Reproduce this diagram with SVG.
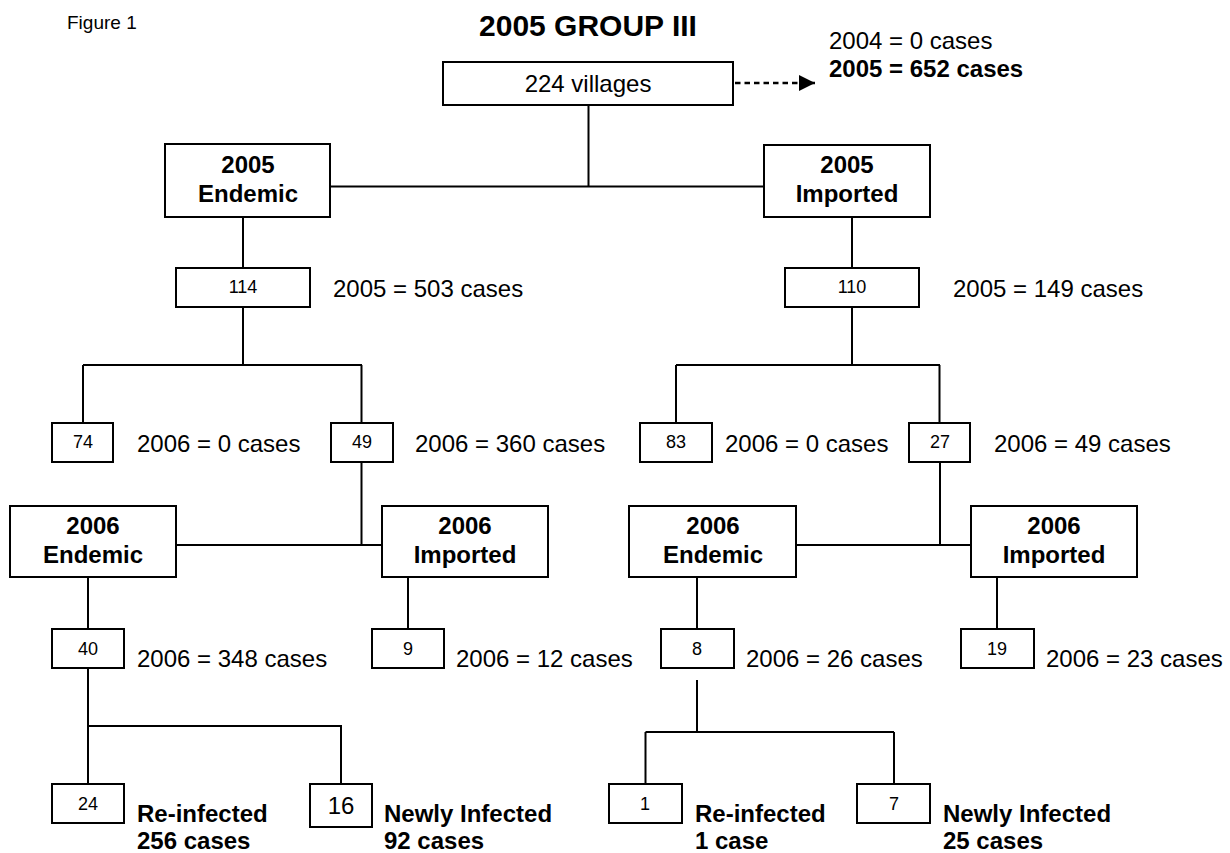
<svg xmlns="http://www.w3.org/2000/svg" width="1230" height="853" viewBox="0 0 1230 853">
<defs>
<style>
.bx{fill:#fff;stroke:#000;stroke-width:2}
.ln{fill:none;stroke:#000;stroke-width:2}
.dash{fill:none;stroke:#000;stroke-width:2.5;stroke-dasharray:5.5,4}
text{font-family:"Liberation Sans",Arial,sans-serif;fill:#000}
.t{font-size:24px}
.b{font-size:24px;font-weight:bold}
.bc{font-size:24px;font-weight:bold;text-anchor:middle}
.n{font-size:18px;text-anchor:middle}
.nl{font-size:24px;text-anchor:middle}
</style>
<marker id="ah" viewBox="0 0 16 16" refX="16" refY="8" markerWidth="16" markerHeight="16" markerUnits="userSpaceOnUse" orient="auto">
<path d="M0,0 L16,8 L0,16 Z" fill="#000"/>
</marker>
</defs>
<rect width="1230" height="853" fill="#fff"/>
<text x="67" y="29" style="font-size:19px">Figure 1</text>
<text x="588" y="36" style="font-size:30px;font-weight:bold;text-anchor:middle">2005 GROUP III</text>
<g id="connectors">
<path class="ln" d="M588.5,105 V186.5 M330,186.5 H764"/>
<path class="dash" d="M735,83 H815" marker-end="url(#ah)"/>
<path class="ln" d="M243,217 V268 M852,217 V268"/>
<path class="ln" d="M243,307 V365 M83,365 H362 M83,365 V423 M361.5,365 V423"/>
<path class="ln" d="M852,307 V365 M676,365 H940 M676,365 V423 M939.5,365 V423"/>
<path class="ln" d="M361.5,462 V545 M176,545 H382"/>
<path class="ln" d="M940,462 V545 M796,545 H971"/>
<path class="ln" d="M88,577 V629 M408,577 V629 M697,577 V629 M997,577 V629"/>
<path class="ln" d="M88,668 V784 M88,726 H341 V784"/>
<path class="ln" d="M697,680 V732 M645.5,732 H894 M645.5,732 V784 M894,732 V784"/>
</g>
<g id="n224"><rect class="bx" x="443" y="62" width="290" height="43"/><text class="t" x="588" y="92" text-anchor="middle">224 villages</text></g>
<g id="cases2005"><text class="t" x="829" y="49">2004 = 0 cases</text><text class="b" x="829" y="77">2005 = 652 cases</text></g>
<g id="end2005"><rect class="bx" x="165" y="144" width="165" height="73"/><text class="bc" x="248" y="173">2005</text><text class="bc" x="248" y="202">Endemic</text></g>
<g id="imp2005"><rect class="bx" x="764" y="145" width="166" height="72"/><text class="bc" x="847" y="173">2005</text><text class="bc" x="847" y="202">Imported</text></g>
<g id="n114"><rect class="bx" x="176" y="268" width="134" height="39"/><text class="n" x="243" y="293">114</text><text class="t" x="333" y="297">2005 = 503 cases</text></g>
<g id="n110"><rect class="bx" x="785" y="268" width="134" height="39"/><text class="n" x="852" y="293">110</text><text class="t" x="953" y="297">2005 = 149 cases</text></g>
<g id="n74"><rect class="bx" x="52" y="423" width="61" height="39"/><text class="n" x="83" y="448">74</text><text class="t" x="137" y="452">2006 = 0 cases</text></g>
<g id="n49"><rect class="bx" x="331" y="423" width="62" height="39"/><text class="n" x="362" y="448">49</text><text class="t" x="415" y="452">2006 = 360 cases</text></g>
<g id="n83"><rect class="bx" x="640" y="423" width="72" height="39"/><text class="n" x="676" y="448">83</text><text class="t" x="725" y="452">2006 = 0 cases</text></g>
<g id="n27"><rect class="bx" x="909" y="423" width="61" height="39"/><text class="n" x="940" y="448">27</text><text class="t" x="994" y="452">2006 = 49 cases</text></g>
<g id="end2006a"><rect class="bx" x="10" y="506" width="166" height="71"/><text class="bc" x="93" y="534">2006</text><text class="bc" x="93" y="563">Endemic</text></g>
<g id="imp2006a"><rect class="bx" x="382" y="506" width="166" height="71"/><text class="bc" x="465" y="534">2006</text><text class="bc" x="465" y="563">Imported</text></g>
<g id="end2006b"><rect class="bx" x="629" y="506" width="167" height="71"/><text class="bc" x="713" y="534">2006</text><text class="bc" x="713" y="563">Endemic</text></g>
<g id="imp2006b"><rect class="bx" x="971" y="506" width="166" height="71"/><text class="bc" x="1054" y="534">2006</text><text class="bc" x="1054" y="563">Imported</text></g>
<g id="n40"><rect class="bx" x="52" y="629" width="72" height="39"/><text class="n" x="88" y="655">40</text><text class="t" x="137" y="667">2006 = 348 cases</text></g>
<g id="n9"><rect class="bx" x="372" y="629" width="72" height="39"/><text class="n" x="408" y="655">9</text><text class="t" x="456" y="667">2006 = 12 cases</text></g>
<g id="n8"><rect class="bx" x="661" y="629" width="73" height="39"/><text class="n" x="697" y="655">8</text><text class="t" x="746" y="667">2006 = 26 cases</text></g>
<g id="n19"><rect class="bx" x="961" y="629" width="73" height="39"/><text class="n" x="997" y="655">19</text><text class="t" x="1046" y="667">2006 = 23 cases</text></g>
<g id="n24"><rect class="bx" x="52" y="784" width="72" height="39"/><text class="n" x="88" y="810">24</text><text class="b" x="137" y="822">Re-infected</text><text class="b" x="137" y="849">256 cases</text></g>
<g id="n16"><rect class="bx" x="310" y="784" width="62" height="43"/><text class="nl" x="341" y="814">16</text><text class="b" x="384" y="822">Newly Infected</text><text class="b" x="384" y="849">92 cases</text></g>
<g id="n1"><rect class="bx" x="609" y="784" width="73" height="39"/><text class="n" x="645" y="810">1</text><text class="b" x="695" y="822">Re-infected</text><text class="b" x="695" y="849">1 case</text></g>
<g id="n7"><rect class="bx" x="857" y="784" width="73" height="39"/><text class="n" x="894" y="810">7</text><text class="b" x="943" y="822">Newly Infected</text><text class="b" x="943" y="849">25 cases</text></g>
</svg>
